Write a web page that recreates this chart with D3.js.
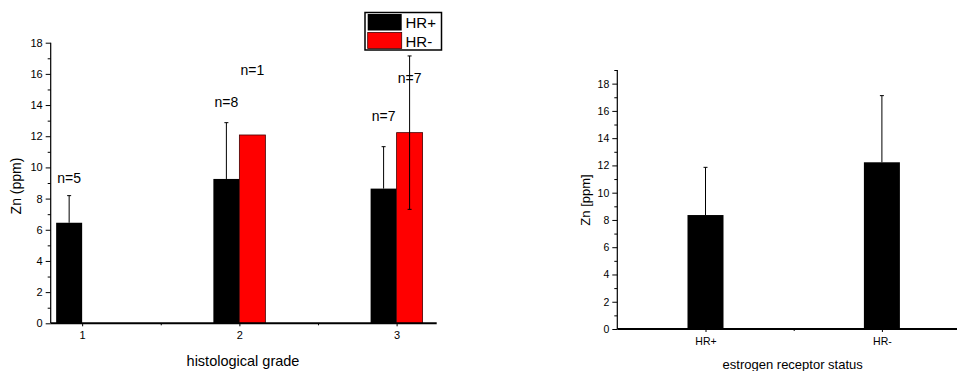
<!DOCTYPE html>
<html><head><meta charset="utf-8">
<script src="https://cdn.jsdelivr.net/npm/d3@7"></script>
<style>body{margin:0;background:#fff;} text{font-family:"Liberation Sans",Arial,sans-serif;fill:#000;}</style>
</head><body><svg id="c" width="957" height="371"></svg>
<script>
// ---- Data: left chart (histological grade) ----
const grades = ["1", "2", "3"];
const hrPosMean = [6.45, 9.26, 8.64];
const hrPosErr = [1.74, 3.61, 2.69];
const hrNegMean = [null, 12.08, 12.23];
const hrNegErr = [null, 0, 4.92];
const hrPosN = ["n=5", "n=8", "n=7"];
const hrNegN = [null, "n=1", "n=7"];
const leftYTicks = [0, 2, 4, 6, 8, 10, 12, 14, 16, 18];
// ---- Data: right chart (estrogen receptor status) ----
const status = ["HR+", "HR-"];
const statusMean = [8.36, 12.23];
const statusErr = [3.5, 4.89];
const rightYTicks = [0, 2, 4, 6, 8, 10, 12, 14, 16, 18];

const svg = d3.select("#c");

// ===== Left chart =====
const L = {x0: 50.7, x1: 436.7, y0: 323.3, y1: 42.7};
const xL = d3.scaleLinear().domain([0.8, 3.255]).range([L.x0, L.x1]);
const yL = d3.scaleLinear().domain([0, 18]).range([L.y0, L.y1]);
const barW = 26;
const gL = svg.append("g");

// y axis
const yAxL = d3.axisLeft(yL).tickValues(leftYTicks).tickSize(5).tickPadding(3).tickFormat(d3.format("d"));
const gyL = gL.append("g").attr("transform", `translate(${L.x0},0)`).call(yAxL);
gyL.select(".domain").attr("d", `M0,${L.y0}V${L.y1}`).attr("stroke-width", 1.2);
gyL.selectAll("text").style("font-size", "11px");
gL.append("g").attr("transform", `translate(${L.x0},0)`)
  .call(d3.axisLeft(yL).tickValues(d3.range(1, 18, 2)).tickSize(3).tickFormat(""))
  .select(".domain").remove();

// bars HR+
grades.forEach((g, i) => {
  const c = +g;
  gL.append("rect").attr("x", xL(c) - barW).attr("width", barW)
    .attr("y", yL(hrPosMean[i])).attr("height", yL(0) - yL(hrPosMean[i]))
    .attr("fill", "#000");
  if (hrNegMean[i] != null) {
    gL.append("rect").attr("x", xL(c)).attr("width", barW)
      .attr("y", yL(hrNegMean[i])).attr("height", yL(0) - yL(hrNegMean[i]))
      .attr("fill", "#ff0000").attr("stroke", "#400").attr("stroke-width", 0.8);
  }
});
// error bars
function errBar(g, cx, top, bot, scale) {
  g.append("line").attr("x1", cx).attr("x2", cx).attr("y1", scale(bot)).attr("y2", scale(top)).attr("stroke", "#000").attr("stroke-width", 1);
  g.append("line").attr("x1", cx - 2).attr("x2", cx + 2).attr("y1", scale(top)).attr("y2", scale(top)).attr("stroke", "#000").attr("stroke-width", 1);
}
grades.forEach((g, i) => {
  const c = +g;
  errBar(gL, xL(c) - barW / 2, hrPosMean[i] + hrPosErr[i], hrPosMean[i], yL);
  if (hrNegMean[i] != null && hrNegErr[i] > 0) {
    const cx = xL(c) + barW / 2;
    errBar(gL, cx, hrNegMean[i] + hrNegErr[i], hrNegMean[i] - hrNegErr[i], yL);
    gL.append("line").attr("x1", cx - 2).attr("x2", cx + 2)
      .attr("y1", yL(hrNegMean[i] - hrNegErr[i])).attr("y2", yL(hrNegMean[i] - hrNegErr[i]))
      .attr("stroke", "#000");
  }
});

// x axis
const xAxL = d3.axisBottom(xL).tickValues([1, 2, 3]).tickSize(3).tickPadding(5).tickFormat(d3.format("d"));
const gxL = gL.append("g").attr("transform", `translate(0,${L.y0})`).call(xAxL);
gxL.select(".domain").attr("d", `M${L.x0},0H${L.x1}`).attr("stroke-width", 2);
gxL.selectAll("text").style("font-size", "11px");
gL.append("g").attr("transform", `translate(0,${L.y0})`)
  .call(d3.axisBottom(xL).tickValues([1.5, 2.5]).tickSize(2).tickFormat(""))
  .select(".domain").remove();

// n labels (annotation anchor heights, in data units)
const posLabelY = [9.0, 13.9, 13.0];
const negLabelY = [null, 15.9, 15.4];
grades.forEach((g, i) => {
  const c = +g;
  gL.append("text").attr("x", xL(c) - barW / 2).attr("y", yL(posLabelY[i]))
    .attr("text-anchor", "middle").style("font-size", "14px").text(hrPosN[i]);
  if (hrNegN[i]) gL.append("text").attr("x", xL(c) + barW / 2).attr("y", yL(negLabelY[i]))
    .attr("text-anchor", "middle").style("font-size", "14px").text(hrNegN[i]);
});

// axis titles
gL.append("text").attr("transform", `translate(21,${(L.y0 + L.y1) / 2 + 3}) rotate(-90)`)
  .attr("text-anchor", "middle").style("font-size", "14px").text("Zn (ppm)");
gL.append("text").attr("x", 243).attr("y", 366).attr("text-anchor", "middle")
  .style("font-size", "14.5px").text("histological grade");

// legend
const lg = gL.append("g");
lg.append("rect").attr("x", 365).attr("y", 12.5).attr("width", 76.5).attr("height", 37.5)
  .attr("fill", "#fff").attr("stroke", "#000").attr("stroke-width", 1.5);
lg.append("rect").attr("x", 367.7).attr("y", 14).attr("width", 34).attr("height", 16.5).attr("fill", "#000");
lg.append("rect").attr("x", 367.7).attr("y", 32.5).attr("width", 34).attr("height", 16).attr("fill", "#ff0000")
  .attr("stroke", "#400").attr("stroke-width", 0.8);
lg.append("text").attr("x", 405.5).attr("y", 27.5).style("font-size", "15px").text("HR+");
lg.append("text").attr("x", 405.5).attr("y", 46.5).style("font-size", "15px").text("HR-");

// ===== Right chart =====
const R = {x0: 617.3, y0: 329, y1: 70};
const xR = d3.scaleLinear().domain([0.5, 2.5]).range([R.x0, R.x0 + 2 * 176.4]);
const yR = d3.scaleLinear().domain([0, 19]).range([R.y0, R.y1]);
const barWR = 36;
const gR = svg.append("g");

const gyR = gR.append("g").attr("transform", `translate(${R.x0},0)`)
  .call(d3.axisLeft(yR).tickValues(rightYTicks).tickSize(5).tickPadding(3).tickFormat(d3.format("d")));
gyR.select(".domain").attr("d", `M0,${R.y0}V${R.y1}`).attr("stroke-width", 1.2);
gyR.selectAll("text").style("font-size", "10.5px");
gR.append("g").attr("transform", `translate(${R.x0},0)`)
  .call(d3.axisLeft(yR).tickValues(d3.range(1, 20, 2)).tickSize(3).tickFormat(""))
  .select(".domain").remove();

status.forEach((s, i) => {
  const cx = xR(i + 1);
  gR.append("rect").attr("x", cx - barWR / 2).attr("width", barWR)
    .attr("y", yR(statusMean[i])).attr("height", yR(0) - yR(statusMean[i])).attr("fill", "#000");
  errBar(gR, cx, statusMean[i] + statusErr[i], statusMean[i], yR);
});

const gxR = gR.append("g").attr("transform", `translate(0,${R.y0})`)
  .call(d3.axisBottom(xR).tickValues([1, 2]).tickSize(3).tickPadding(6).tickFormat((d) => status[d - 1]));
gxR.select(".domain").attr("d", `M${R.x0},0H957`).attr("stroke-width", 1.8);
gxR.selectAll("text").style("font-size", "10.5px");
gR.append("g").attr("transform", `translate(0,${R.y0})`)
  .call(d3.axisBottom(xR).tickValues([1.5]).tickSize(2).tickFormat(""))
  .select(".domain").remove();

gR.append("text").attr("transform", `translate(590,200) rotate(-90)`)
  .attr("text-anchor", "middle").style("font-size", "13px").text("Zn [ppm]");
gR.append("text").attr("x", 792.7).attr("y", 369).attr("text-anchor", "middle")
  .style("font-size", "13px").text("estrogen receptor status");
</script></body></html>
